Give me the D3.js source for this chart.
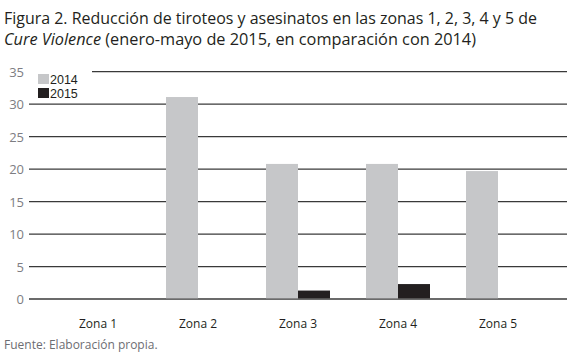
<!DOCTYPE html>
<html lang="es">
<head>
    <meta charset="utf-8">
    <style>
        body { margin: 0; background: #fff; }
        svg { font-family: "Open Sans", sans-serif; }
        .grid line { stroke: #3a3a3a; stroke-width: 1.3; }
        .ytick { fill: #7d7d82; font-size: 13px; }
        .cat { fill: #231f20; font-size: 12px; }
    </style>
    <script src="https://d3js.org/d3.v7.min.js"></script>
</head>
<body>
    <svg width="584" height="364"></svg>
    <script>
        var zonas = ["Zona 1", "Zona 2", "Zona 3", "Zona 4", "Zona 5"];
        var series = ["2014", "2015"];
        var valores2014 = [0, 31.1, 20.8, 20.8, 19.7];
        var valores2015 = [0, 0, 1.3, 2.3, 0];
        var yTicks = [0, 5, 10, 15, 20, 25, 30, 35];
        var colores = ["#c6c7c9", "#231f20"];

        var svg = d3.select("svg");

        // titulo (dos lineas)
        svg.append("text")
            .attr("x", 4).attr("y", 24)
            .attr("fill", "#231f20")
            .attr("font-size", "16.5px")
            .attr("textLength", 533).attr("lengthAdjust", "spacingAndGlyphs")
            .text("Figura 2. Reducción de tiroteos y asesinatos en las zonas 1, 2, 3, 4 y 5 de");
        var t2 = svg.append("text")
            .attr("x", 4).attr("y", 45)
            .attr("fill", "#231f20")
            .attr("font-size", "16.5px")
            .attr("textLength", 472).attr("lengthAdjust", "spacingAndGlyphs");
        t2.append("tspan")
            .attr("font-style", "italic")
            .text("Cure Violence");
        t2.append("tspan")
            .text(" (enero-mayo de 2015, en comparación con 2014)");

        var y = d3.scaleLinear().domain([0, 35]).range([299, 71.7]);
        var x = d3.scaleBand().domain(zonas).range([48, 548])
            .paddingInner(0.36).paddingOuter(0.18);
        var xs = d3.scaleBand().domain(series).range([0, x.bandwidth()]);

        var data = zonas.map(function(z, i) {
            return { zona: z, vals: [valores2014[i], valores2015[i]] };
        });

        // lineas de cuadricula
        svg.append("g").attr("class", "grid")
            .selectAll("line")
            .data(yTicks)
            .enter().append("line")
            .attr("x1", function(d) { return d === 35 ? 92 : 29; })
            .attr("x2", 567)
            .attr("y1", function(d) { return y(d); })
            .attr("y2", function(d) { return y(d); });

        svg.append("g")
            .selectAll("text")
            .data(yTicks)
            .enter().append("text")
            .attr("class", "ytick")
            .attr("x", 24)
            .attr("y", function(d) { return y(d) + 5; })
            .attr("text-anchor", "end")
            .text(function(d) { return d; });

        // barras
        var grupos = svg.append("g")
            .selectAll("g")
            .data(data)
            .enter().append("g")
            .attr("transform", function(d) { return "translate(" + x(d.zona) + ",0)"; });

        grupos.selectAll("rect")
            .data(function(d) { return d.vals; })
            .enter().append("rect")
            .attr("x", function(d, i) { return xs(series[i]); })
            .attr("width", xs.bandwidth())
            .attr("y", function(d) { return y(d); })
            .attr("height", function(d) { return y(0) - y(d) - 0.7; })
            .attr("fill", function(d, i) { return colores[i]; });

        // etiquetas de categoria
        svg.append("g")
            .selectAll("text")
            .data(zonas)
            .enter().append("text")
            .attr("class", "cat")
            .attr("x", function(d) { return x(d) + x.bandwidth() / 2; })
            .attr("y", 328)
            .attr("text-anchor", "middle")
            .text(function(d) { return d; });

        // leyenda
        var leg = svg.append("g");
        leg.append("rect")
            .attr("x", 30).attr("y", 64).attr("width", 60).attr("height", 36)
            .attr("fill", "#fff");
        series.forEach(function(s, i) {
            leg.append("rect")
                .attr("x", 38).attr("y", 74 + i * 14)
                .attr("width", 11).attr("height", 10)
                .attr("fill", colores[i]);
            leg.append("text")
                .attr("x", 50).attr("y", 84 + i * 14)
                .attr("fill", "#231f20")
                .attr("font-family", "'Liberation Sans', sans-serif")
                .attr("font-size", "12.5px")
                .text(s);
        });

        svg.append("text")
            .attr("x", 4).attr("y", 349)
            .attr("fill", "#6d6d72")
            .attr("font-size", "12px")
            .text("Fuente: Elaboración propia.");
    </script>
</body>
</html>
